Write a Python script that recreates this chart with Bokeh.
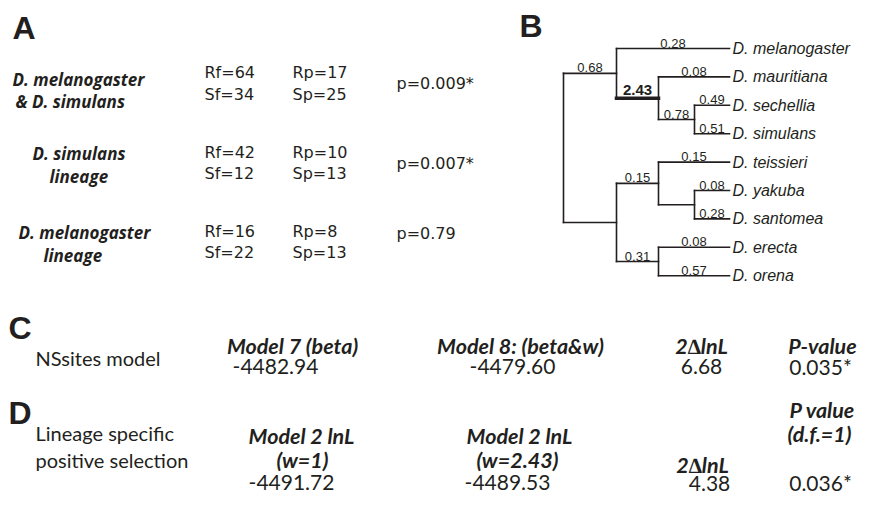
from bokeh.plotting import figure
from bokeh.models import Range1d, ColumnDataSource
from bokeh.core.properties import value
from bokeh.embed import file_html
from bokeh.resources import INLINE

INK = "#231f20"

# ---------------- data ----------------
# Panel A: McDonald-Kreitman style counts
a_labels = [["D. melanogaster", "& D. simulans"],
            ["D. simulans", "lineage"],
            ["D. melanogaster", "lineage"]]
a_Rf = [64, 42, 16]
a_Sf = [34, 12, 22]
a_Rp = [17, 10, 8]
a_Sp = [25, 13, 13]
a_p = ["0.009*", "0.007*", "0.79"]

# Panel B: tree (name, branch label, children, bold)
tree = ("", None, [
    ("", 0.68, [
        ("D. melanogaster", 0.28, [], False),
        ("", 2.43, [
            ("D. mauritiana", 0.08, [], False),
            ("", 0.78, [
                ("D. sechellia", 0.49, [], False),
                ("D. simulans", 0.51, [], False),
            ], False),
        ], True),
    ], False),
    ("", None, [
        ("", 0.15, [
            ("D. teissieri", 0.15, [], False),
            ("", None, [
                ("D. yakuba", 0.08, [], False),
                ("D. santomea", 0.28, [], False),
            ], False),
        ], False),
        ("", 0.31, [
            ("D. erecta", 0.08, [], False),
            ("D. orena", 0.57, [], False),
        ], False),
    ], False),
], False)

# Panel C
c_headers = ["Model 7 (beta)", "Model 8: (beta&w)", "2\u2206lnL", "P-value"]
c_row_label = "NSsites model"
c_lnL = [-4482.94, -4479.60]
c_2dl = 6.68
c_p = "0.035*"

# Panel D
d_row_label = ["Lineage specific", "positive selection"]
d_headers = [["Model 2 lnL", "(w=1)"], ["Model 2 lnL", "(w=2.43)"], ["2\u2206lnL"], ["P value", "(d.f.=1)"]]
d_lnL = [-4491.72, -4489.53]
d_2dl = 4.38
d_p = "0.036*"

# ---------------- layout ----------------
p = figure(width=860, height=496, x_range=Range1d(0, 860), y_range=Range1d(496, 0),
           output_backend="svg", toolbar_location=None, min_border=0,
           x_axis_type=None, y_axis_type=None)
p.grid.visible = False
p.outline_line_color = None
p.background_fill_color = "white"
p.border_fill_color = "white"


def put(xs, ys, texts, font, size, style="normal", align="left", baseline="middle"):
    src = ColumnDataSource(dict(x=xs, y=ys, t=texts))
    p.text(x="x", y="y", text="t", source=src, text_font=value(font),
           text_font_size=value(size), text_font_style=style, text_align=align,
           text_baseline=baseline, text_color=INK)


# panel letters
put([12, 519, 8, 8], [27, 25, 327, 412], ["A", "B", "C", "D"],
    "Liberation Sans", "32px", "bold")

# ---- Panel A ----
lab_pos = [[(12, 79), (15, 101)], [(32, 153), (49, 176)], [(18, 232), (43, 255)]]
row_y = [(72, 94), (152, 173), (231, 252)]
p_y = [83, 163, 233]
lx, ly, lt = [], [], []
for grp, pos in zip(a_labels, lab_pos):
    for t, (x, y) in zip(grp, pos):
        lx.append(x); ly.append(y); lt.append(t)
put(lx, ly, lt, "Open Sans", "17px", "bold italic")

nx, ny, nt = [], [], []
for i in range(3):
    y1, y2 = row_y[i]
    nx += [204, 204, 292, 292]
    ny += [y1, y2, y1, y2]
    nt += [f"Rf={a_Rf[i]}", f"Sf={a_Sf[i]}", f"Rp={a_Rp[i]}", f"Sp={a_Sp[i]}"]
put(nx, ny, nt, "DejaVu Sans", "16px")
put([396] * 3, p_y, [f"p={v}" for v in a_p], "DejaVu Sans", "16px")

# ---- Panel B: cladogram ----
level_x = [563, 616, 658, 694]
leaf_x = 729
leaf_y0, leaf_dy = 48, 28.4

segs = dict(x0=[], y0=[], x1=[], y1=[])
bold = dict(x0=[], y0=[], x1=[], y1=[])
blab = dict(x=[], y=[], t=[])
bblab = dict(x=[], y=[], t=[])
leaves = dict(x=[], y=[], t=[])
counter = [0]


def lay(node, depth):
    name, bl, kids, isbold = node
    if not kids:
        y = leaf_y0 + counter[0] * leaf_dy
        counter[0] += 1
        leaves["x"].append(leaf_x + 3); leaves["y"].append(y); leaves["t"].append(name)
        return leaf_x, y
    x = level_x[depth]
    cpos = [lay(k, depth + 1) for k in kids]
    ys = [c[1] for c in cpos]
    segs["x0"].append(x); segs["y0"].append(min(ys)); segs["x1"].append(x); segs["y1"].append(max(ys))
    for k, (cx, cy) in zip(kids, cpos):
        d = bold if k[3] else segs
        d["x0"].append(x); d["y0"].append(cy); d["x1"].append(cx); d["y1"].append(cy)
        if k[1] is not None:
            L = bblab if k[3] else blab
            L["x"].append((x + cx) / 2); L["y"].append(cy - (3 if k[3] else 1)); L["t"].append(f"{k[1]:.2f}")
    return x, sum(ys) / len(ys)


lay(tree, 0)
p.segment(x0="x0", y0="y0", x1="x1", y1="y1", source=ColumnDataSource(segs),
          line_width=1.6, line_color=INK, line_cap="square")
p.segment(x0="x0", y0="y0", x1="x1", y1="y1", source=ColumnDataSource(bold),
          line_width=3.5, line_color=INK, line_cap="square")
put(blab["x"], blab["y"], blab["t"], "Liberation Sans", "13px", align="center", baseline="bottom")
put(bblab["x"], bblab["y"], bblab["t"], "Liberation Sans", "15px", "bold", align="center", baseline="bottom")
put(leaves["x"], leaves["y"], leaves["t"], "Liberation Sans", "16px", "italic")

# ---- Panel C ----
put([35], [357], [c_row_label], "Lato", "20px")
put([292, 520, 701, 822], [345] * 4, c_headers, "Lato", "21.5px", "bold italic", align="center")
put([275, 512, 701, 820], [366] * 4,
    [f"{c_lnL[0]:.2f}", f"{c_lnL[1]:.2f}", f"{c_2dl:.2f}", c_p], "Lato", "21px", align="center")

# ---- Panel D ----
put([35, 35], [432, 459], d_row_label, "Lato", "20px")
hx = [[301, 302], [519, 517], [702], [822, 819]]
hy = [[435, 459], [435, 459], [464], [409, 433]]
dx, dy, dt = [], [], []
for hs, xs_, ys_ in zip(d_headers, hx, hy):
    dx += xs_; dy += ys_; dt += hs
put(dx, dy, dt, "Lato", "21.5px", "bold italic", align="center")
put([291, 507, 709, 820], [482, 482, 483, 482],
    [f"{d_lnL[0]:.2f}", f"{d_lnL[1]:.2f}", f"{d_2dl:.2f}", d_p], "Lato", "21px", align="center")

open("out.html", "w").write(file_html(p, INLINE))
